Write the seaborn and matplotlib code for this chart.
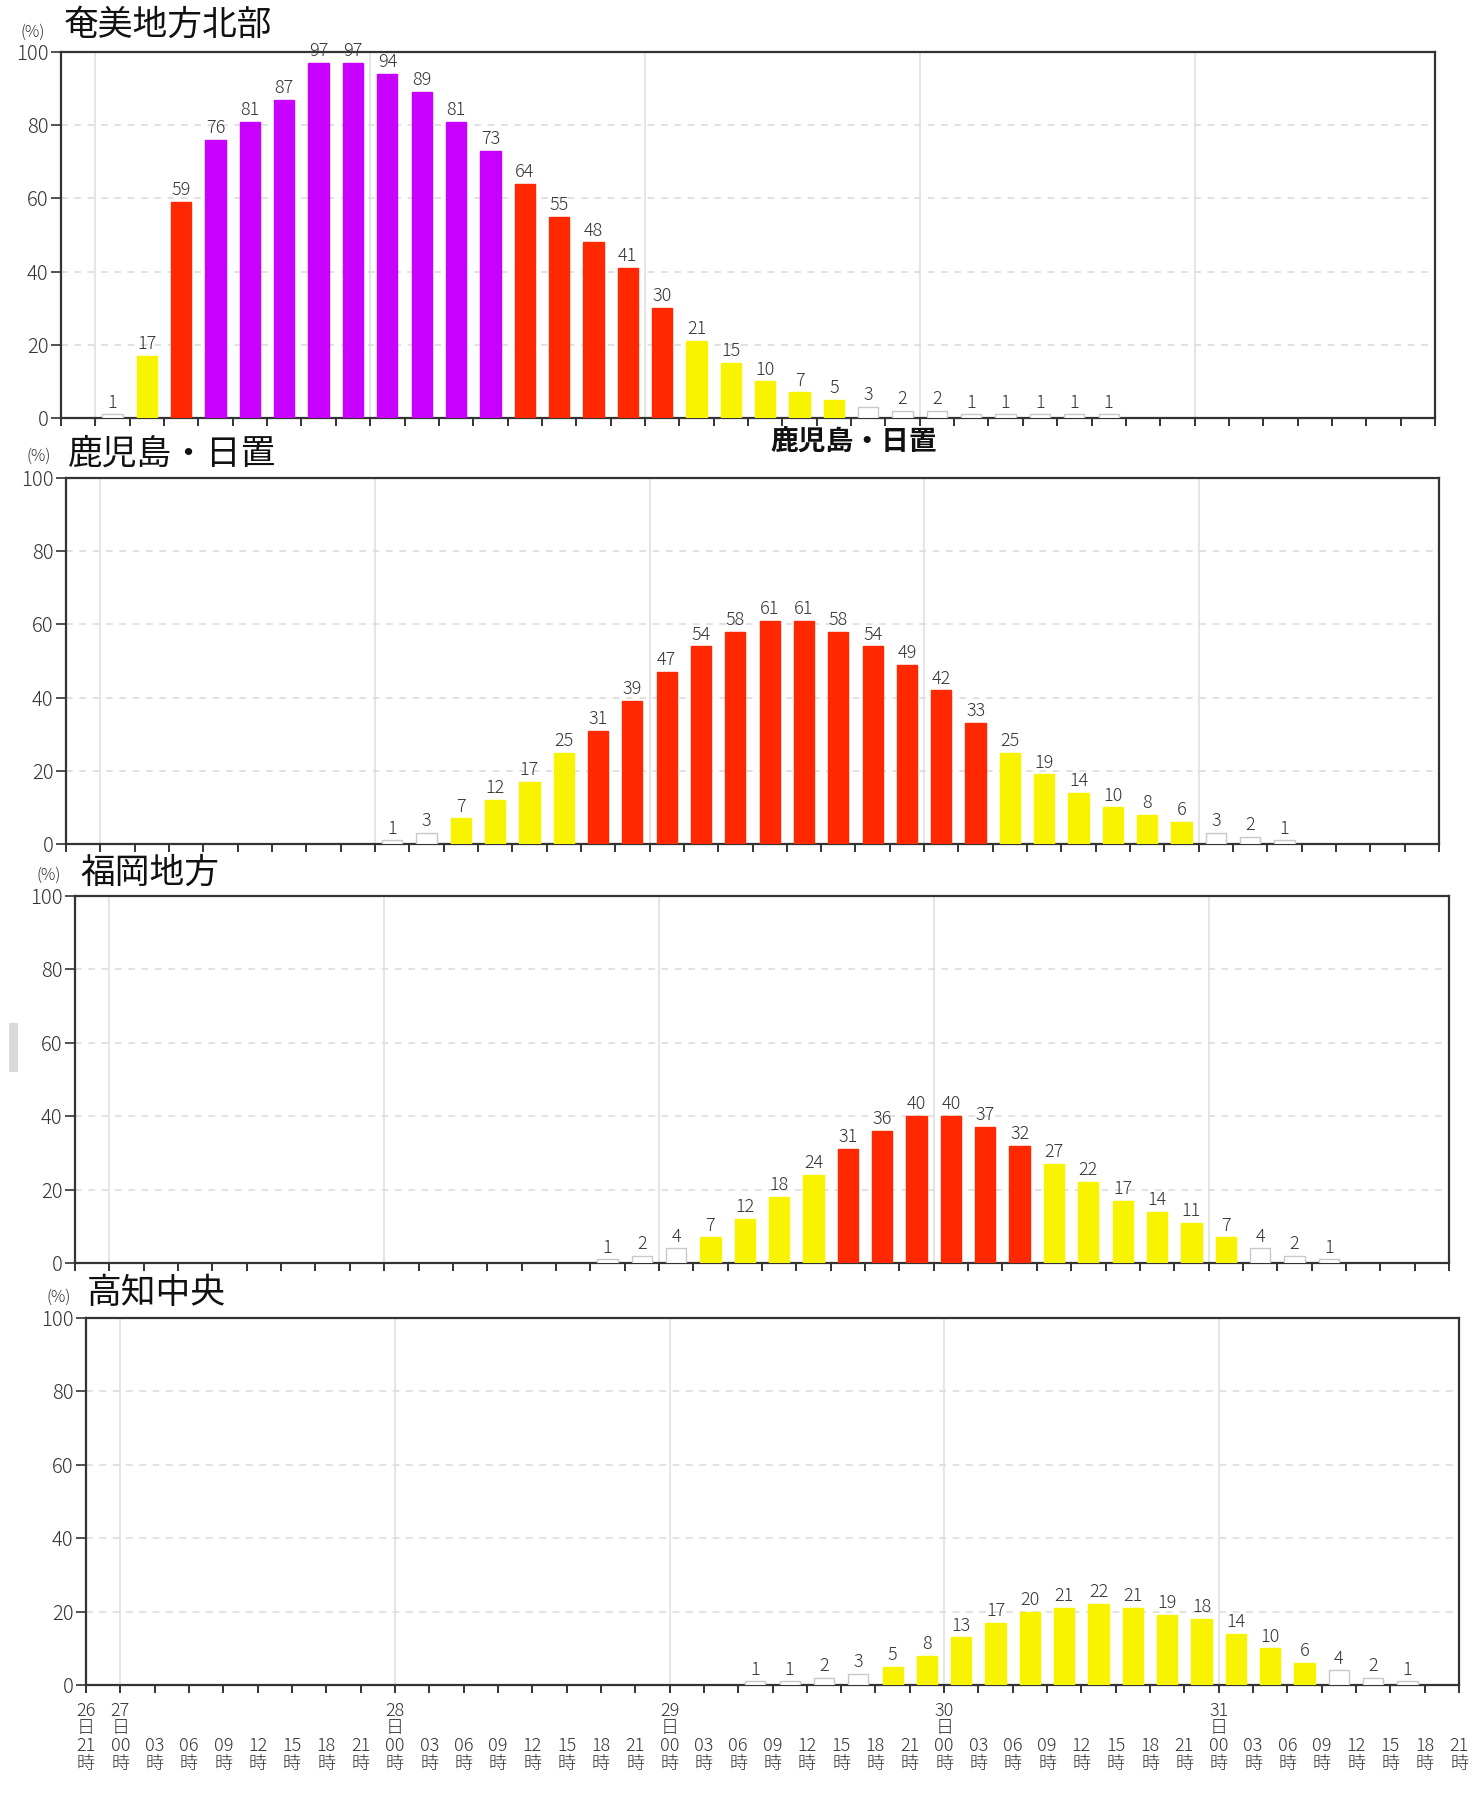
import matplotlib
matplotlib.use("Agg")
import matplotlib.pyplot as plt
import seaborn as sns
import pandas as pd
import numpy as np
from matplotlib.patches import Rectangle

# ---------------- data ----------------
tick_day = ['26', '27', '', '', '', '', '', '', '',
            '28', '', '', '', '', '', '', '',
            '29', '', '', '', '', '', '', '',
            '30', '', '', '', '', '', '', '',
            '31', '', '', '', '', '', '', '']
tick_hour = ['21', '00', '03', '06', '09', '12', '15', '18', '21',
             '00', '03', '06', '09', '12', '15', '18', '21',
             '00', '03', '06', '09', '12', '15', '18', '21',
             '00', '03', '06', '09', '12', '15', '18', '21',
             '00', '03', '06', '09', '12', '15', '18', '21']

titles = ['奄美地方北部', '鹿児島・日置', '福岡地方', '高知中央']

# first 3-hour slot (index from 26日21時) and probabilities (%)
amami_start = 1
amami = [1, 17, 59, 76, 81, 87, 97, 97, 94, 89, 81, 73, 64, 55, 48, 41, 30,
         21, 15, 10, 7, 5, 3, 2, 2, 1, 1, 1, 1, 1]
kagoshima_start = 9
kagoshima = [1, 3, 7, 12, 17, 25, 31, 39, 47, 54, 58, 61, 61, 58, 54, 49, 42,
             33, 25, 19, 14, 10, 8, 6, 3, 2, 1]
fukuoka_start = 15
fukuoka = [1, 2, 4, 7, 12, 18, 24, 31, 36, 40, 40, 37, 32, 27, 22, 17, 14, 11,
           7, 4, 2, 1]
kochi_start = 19
kochi = [1, 1, 2, 3, 5, 8, 13, 17, 20, 21, 22, 21, 19, 18, 14, 10, 6, 4, 2, 1]

series = [(amami_start, amami), (kagoshima_start, kagoshima),
          (fukuoka_start, fukuoka), (kochi_start, kochi)]

palette = {'purple': '#C800FF', 'red': '#FF2800', 'yellow': '#F8F400', 'white': '#FFFFFF'}


def level(v):
    if v >= 70:
        return 'purple'
    if v >= 30:
        return 'red'
    if v >= 5:
        return 'yellow'
    return 'white'


# ---------------- style ----------------
sns.set_style("white")
plt.rcParams['font.family'] = ['Noto Sans CJK JP', 'DejaVu Sans']

W, H = 1479, 1795
fig = plt.figure(figsize=(W / 100, H / 100), dpi=100)

# axes boxes in pixels: left, right, top, bottom
boxes = [(61, 1435, 52, 418),
         (66, 1439, 478, 844),
         (75, 1449, 896, 1263),
         (86, 1459, 1318, 1685)]
title_pos = [((20, 32), (64, 25)),
             ((27, 456), (68, 454)),
             ((37, 875), (80, 873)),
             ((46, 1297), (87, 1293))]

n_ticks = len(tick_hour)
num_weight = 'light'

for k, ((l, r, t, b), (start, vals)) in enumerate(zip(boxes, series)):
    ax = fig.add_axes([l / W, 1 - b / H, (r - l) / W, (b - t) / H])
    df = pd.DataFrame({'slot': np.arange(start, start + len(vals)) + 0.5,
                       'value': vals})
    df['level'] = [level(v) for v in vals]
    sns.barplot(data=df, x='slot', y='value', hue='level', palette=palette,
                native_scale=True, dodge=False, width=0.59, saturation=1,
                legend=False, ax=ax, linewidth=1.0, edgecolor='none', zorder=3)
    for p in ax.patches:
        fc = p.get_facecolor()
        if fc[0] > 0.98 and fc[1] > 0.98 and fc[2] > 0.98:
            p.set_edgecolor('#c8c8c8')
        else:
            p.set_edgecolor(fc)
    for c in ax.containers:
        ax.bar_label(c, fmt='%d', padding=2, fontsize=13, color='#333333',
                     fontweight=num_weight)

    ax.set_xlim(0, n_ticks - 1)
    ax.set_ylim(0, 100)
    ax.set_xlabel('')
    ax.set_ylabel('')
    ax.set_yticks([0, 20, 40, 60, 80, 100])
    ax.set_yticklabels(['0', '20', '40', '60', '80', '100'], fontsize=14.5,
                       color='#333333', fontweight=num_weight)
    ax.set_xticks(range(n_ticks))
    if k == 3:
        labs = [f"{d}\n日\n{h}\n時" if d else f"\n\n{h}\n時"
                for d, h in zip(tick_day, tick_hour)]
        ax.set_xticklabels(labs, fontsize=13, color='#333333',
                           linespacing=0.98, va='top', fontweight=num_weight)
    else:
        ax.set_xticklabels([])
    ax.tick_params(axis='x', direction='out', length=6, width=1.4,
                   color='#333333', pad=6, bottom=True)
    ax.tick_params(axis='y', direction='out', length=7, width=1.2,
                   color='#333333', pad=2, left=True)

    ax.set_axisbelow(True)
    ax.yaxis.grid(True, linestyle=(0, (4, 4)), color='#dcdcdc', linewidth=1.2)
    ax.xaxis.grid(False)
    for i, h in enumerate(tick_hour):
        if h == '00':
            ax.axvline(i, color='#e0e0e0', linewidth=1.2, zorder=0)
    for s in ax.spines.values():
        s.set_visible(True)
        s.set_color('#333333')
        s.set_linewidth(1.6)

    (px, py), (tx, ty) = title_pos[k]
    fig.text(px / W, 1 - py / H, '(%)', fontsize=11.5, color='#333333',
             ha='left', va='center', fontweight=num_weight)
    fig.text(tx / W, 1 - ty / H, titles[k], fontsize=25, color='#111111',
             ha='left', va='center')

# overlapping bold caption from the original screenshot
fig.text(770 / W, 1 - 443 / H, '鹿児島・日置', fontsize=20, fontweight='bold',
         color='#111111', ha='left', va='center')
# grey scrollbar fragment
fig.patches.append(Rectangle((9 / W, 1 - 1072 / H), 9 / W, 49 / H,
                             transform=fig.transFigure, facecolor='#d9d9d9',
                             edgecolor='none'))

fig.savefig('out.png', dpi=100, facecolor='white')
